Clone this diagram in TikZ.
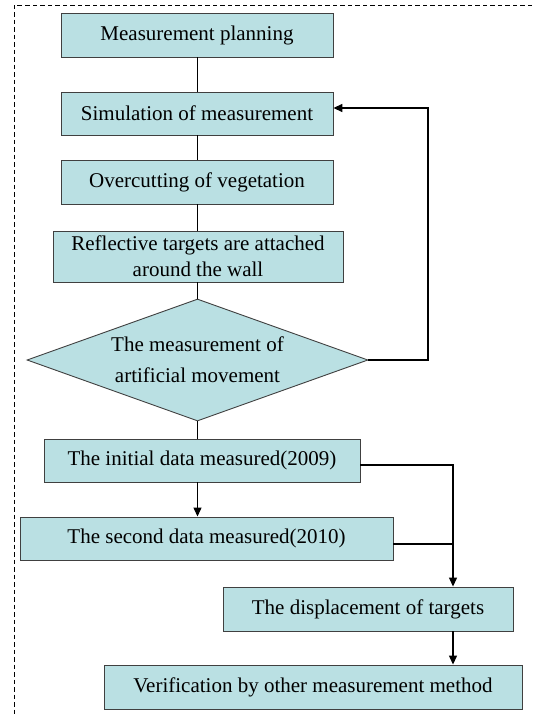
\documentclass[tikz,border=0pt]{standalone}
\usepackage{fontspec}
\setmainfont{Liberation Serif}
\usepackage{xcolor}
\usetikzlibrary{shapes,arrows,arrows.meta,positioning,calc}
\definecolor{boxfill}{RGB}{186,224,227}
\definecolor{boxline}{RGB}{64,64,64}

\begin{document}
\begin{tikzpicture}[
    x=1pt, y=-1pt,
    box/.style={rectangle, draw=boxline, fill=boxfill, line width=0.9pt, inner sep=0pt, align=center, font=\fontsize{21}{26}\selectfont},
    decision/.style={diamond, shape aspect=2.8, draw=boxline, fill=boxfill, line width=0.9pt, inner sep=0pt, align=center, font=\fontsize{21}{31}\selectfont},
    edge/.style={line width=0.9pt},
    edge arrow/.style={line width=1.2pt, -{Triangle[length=9pt,width=8pt]}},
    frame/.style={dash pattern=on 4.5pt off 3pt, line width=0.9pt}
]
    \useasboundingbox (0,0) rectangle (535,715);

    % Frame (top and left only)
    \draw[frame] (532,5) -- (14,5) -- (14,715);

    % Preparation steps
    \node[box, minimum width=272pt, minimum height=44pt] (plan) at (197,35) {Measurement planning};
    \node[box, minimum width=272pt, minimum height=43pt] (sim) at (197,113.5) {Simulation of measurement};
    \node[box, minimum width=272pt, minimum height=44pt] (cut) at (197,182) {Overcutting of vegetation};
    \node[box, minimum width=290pt, minimum height=51pt] (targets) at (198,256.5) {Reflective targets are attached\\around the wall};
    \node[decision, minimum width=341pt, minimum height=122pt] (move) at (197.5,360) {The measurement of\\artificial movement};

    % Measurements
    \node[box, minimum width=316pt, minimum height=43pt] (init) at (202,460.5) {The initial data measured(2009)};
    \node[box, minimum width=373pt, minimum height=43pt] (second) at (206.5,538.5) {The second data measured(2010)};
    \node[box, minimum width=290pt, minimum height=44pt] (disp) at (368,609) {The displacement of targets};
    \node[box, minimum width=418pt, minimum height=44pt] (verif) at (313,687) {Verification by other measurement method};

    % Junctions
    \coordinate (fb) at (428,108);
    \coordinate (j1) at (453,465);
    \coordinate (j2) at (453,544);

    % Plain links
    \draw[edge] (plan) -- (sim);
    \draw[edge] (sim) -- (cut);
    \draw[edge] (cut.south) -- (cut.south |- targets.north);
    \draw[edge] (targets.south -| move.north) -- (move.north);
    \draw[edge] (move.south) -- (move.south |- init.north);
    \draw[edge, line width=1.2pt] (second.east |- j2) -- (j2);

    % Feedback loop
    \draw[edge arrow, line width=1.6pt] (move.east) -| (fb) -- (fb -| sim.east);

    % Arrows
    \draw[edge arrow] (move.south |- init.south) -- (move.south |- second.north);
    \draw[edge arrow] (init.east |- j1) -- (j1) -- (j1 |- disp.north);
    \draw[edge arrow] (j1 |- disp.south) -- (j1 |- verif.north);
\end{tikzpicture}
\end{document}
